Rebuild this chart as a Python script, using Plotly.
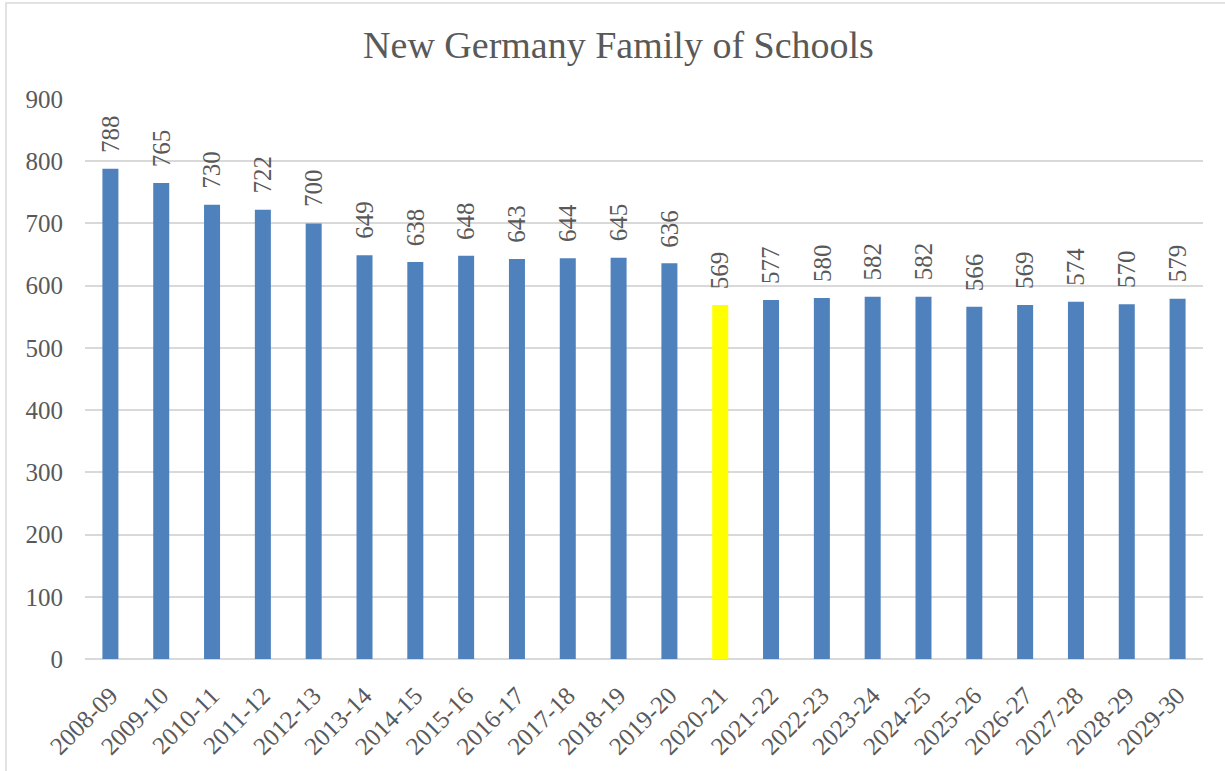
import plotly.graph_objects as go

categories = ["2008-09", "2009-10", "2010-11", "2011-12", "2012-13", "2013-14", "2014-15",
              "2015-16", "2016-17", "2017-18", "2018-19", "2019-20", "2020-21", "2021-22",
              "2022-23", "2023-24", "2024-25", "2025-26", "2026-27", "2027-28", "2028-29", "2029-30"]
values = [788, 765, 730, 722, 700, 649, 638, 648, 643, 644, 645, 636, 569, 577,
          580, 582, 582, 566, 569, 574, 570, 579]
highlight = "2020-21"
y_ticks = [0, 100, 200, 300, 400, 500, 600, 700, 800, 900]

BLUE = "#4F81BD"
YELLOW = "#FFFF00"
TXT = "#595959"
FONT = "Liberation Serif"

colors = [YELLOW if c == highlight else BLUE for c in categories]

fig = go.Figure()
fig.add_trace(go.Bar(
    x=categories, y=values, marker=dict(color=colors, line=dict(width=0)),
    hoverinfo="x+y",
))

for c, v in zip(categories, values):
    fig.add_annotation(
        x=c, y=v, text=str(v), textangle=-90, showarrow=False,
        xanchor="center", yanchor="bottom", yshift=14,
        font=dict(family=FONT, size=25, color=TXT),
    )

fig.update_layout(
    width=1225, height=771,
    margin=dict(l=85, r=22, t=99, b=112),
    paper_bgcolor="white", plot_bgcolor="white",
    bargap=0.685,
    showlegend=False,
    title=dict(text="New Germany Family of Schools", x=618.5 / 1225, xanchor="center",
               y=1 - 45 / 771, yanchor="middle",
               font=dict(family=FONT, size=38, color=TXT)),
    xaxis=dict(
        type="category", tickangle=-45, showgrid=False, showline=False,
        ticks="", automargin=False, ticklabelstandoff=16,
        tickfont=dict(family=FONT, size=25, color=TXT),
    ),
    yaxis=dict(
        range=[0, 900], tickvals=y_ticks, showgrid=True, gridcolor="#D9D9D9",
        gridwidth=1.5, zeroline=True, zerolinecolor="#D9D9D9", zerolinewidth=1.5,
        showline=False, ticks="", ticklabelstandoff=21, automargin=False,
        tickfont=dict(family=FONT, size=25, color=TXT),
    ),
)

# outer chart frame (only left and top edges are visible in the reference)
fig.add_shape(type="rect", xref="paper", yref="paper",
              x0=(6 - 85) / 1118, x1=(1260 - 85) / 1118,
              y0=(659 - 800) / 560, y1=(659 - 3) / 560,
              line=dict(color="#D9D9D9", width=1.5), fillcolor="rgba(0,0,0,0)", layer="below")

fig.write_html("out.html", config={"displayModeBar": False},
               post_script="document.body.style.margin='0';")
